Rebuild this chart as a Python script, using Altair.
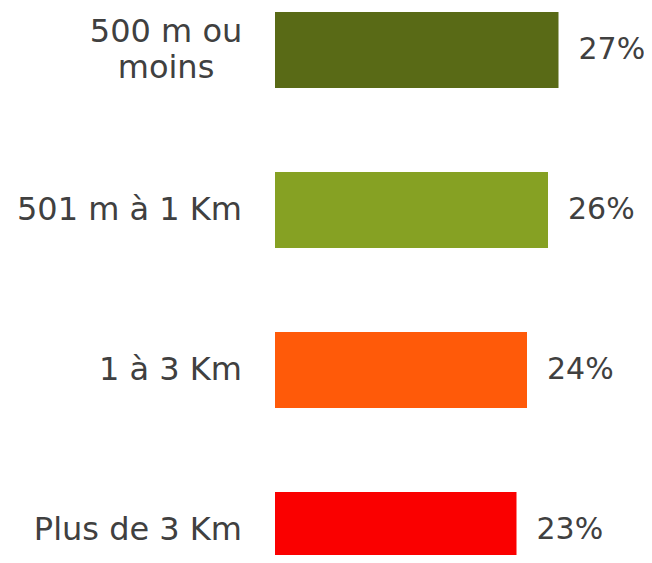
import altair as alt
import pandas as pd

categories = ["500 m ou\nmoins", "501 m à 1 Km", "1 à 3 Km", "Plus de 3 Km"]
values = [27, 26, 24, 23]
colors = ["#596A16", "#86A123", "#FF5A09", "#FA0000"]

df = pd.DataFrame({
    "cat": categories,
    "val": values,
    "label": [f"{v}%" for v in values],
    "multi": ["\n" in c for c in categories],
})

y = alt.Y("cat:N", sort=categories, axis=None,
          scale=alt.Scale(paddingInner=0.525, paddingOuter=0.025, range=[0, 564]))
x = alt.X("val:Q", axis=None, scale=alt.Scale(domain=[0, 30]))

bars = alt.Chart(df).mark_bar().encode(
    x=x, y=y,
    color=alt.Color("cat:N", sort=categories,
                    scale=alt.Scale(domain=categories, range=colors), legend=None),
)

vals = alt.Chart(df).mark_text(
    align="left", baseline="middle", dx=20, font="DejaVu Sans",
    fontSize=30, color="#404040",
).encode(x=x, y=y, text="label:N")

cats_single = alt.Chart(df).transform_filter("!datum.multi").mark_text(
    align="right", baseline="middle", font="DejaVu Sans", fontSize=32,
    color="#404040",
).encode(x=alt.value(-33), y=y, text="cat:N")

cats_multi = alt.Chart(df).transform_filter("datum.multi").mark_text(
    align="center", baseline="middle", font="DejaVu Sans", fontSize=32,
    color="#404040", lineBreak="\n", lineHeight=36, dy=-18,
).encode(x=alt.value(-109), y=y, text="cat:N")

chart = (bars + vals + cats_single + cats_multi).properties(
    width=315, height=547,
    autosize=alt.AutoSizeParams(type="none"),
    padding={"left": 267, "top": 0, "right": 54, "bottom": 0},
).configure_view(stroke=None)

chart.save("out.html", embed_options={"renderer": "svg", "actions": False})
